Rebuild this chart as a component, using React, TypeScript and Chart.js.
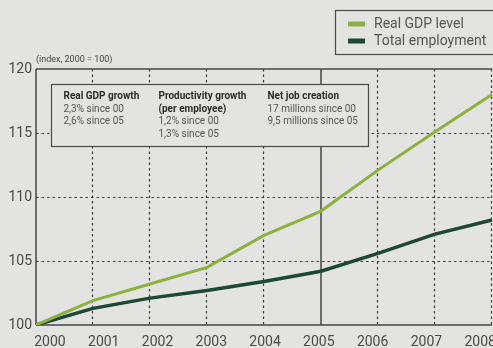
import React, { useEffect, useRef } from "react";
import { Chart, registerables } from "chart.js";

Chart.register(...registerables);

const years = ["2000", "2001", "2002", "2003", "2004", "2005", "2006", "2007", "2008"];
const gdpLevel = [100, 101.9, 103.2, 104.5, 107.0, 108.9, 112.1, 115.1, 118.0];
const totalEmployment = [100, 101.3, 102.1, 102.7, 103.4, 104.2, 105.6, 107.1, 108.2];
const yTicks = [100, 105, 110, 115, 120];
const seriesNames = ["Real GDP level", "Total employment"];
const seriesColors = ["#8db13f", "#1d4736"];
const highlightYear = "2005";
const unitLabel = "(index, 2000 = 100)";
const noteTitles = [["Real GDP growth"], ["Productivity growth", "(per employee)"], ["Net job creation"]];
const noteLines = [
  ["2,3% since 00", "2,6% since 05"],
  ["1,2% since 00", "1,3% since 05"],
  ["17 millions since 00", "9,5 millions since 05"],
];

const BG = "#e3e3e1";
const FONT = "Roboto, 'DejaVu Sans', sans-serif";

const gridPlugin = {
  id: "customGrid",
  beforeDatasetsDraw(chart: any) {
    const { ctx, chartArea: a, scales } = chart;
    const x = scales.x;
    const y = scales.y;
    const line = (x1: number, y1: number, x2: number, y2: number) => {
      ctx.beginPath();
      ctx.moveTo(x1, y1);
      ctx.lineTo(x2, y2);
      ctx.stroke();
    };
    ctx.save();
    ctx.strokeStyle = "#3c3c3c";
    ctx.lineWidth = 1.2;
    ctx.setLineDash([2.5, 3]);
    years.forEach((yr, i) => {
      if (i === 0 || yr === highlightYear) return;
      const px = Math.round(x.getPixelForValue(i)) - 0.5;
      line(px, a.top, px, a.bottom);
    });
    yTicks.forEach((v, i) => {
      if (i === 0 || i === yTicks.length - 1) return;
      const py = Math.round(y.getPixelForValue(v)) + 0.5;
      line(a.left, py, a.right, py);
    });
    ctx.setLineDash([]);
    ctx.strokeStyle = "#454545";
    ctx.lineWidth = 1.5;
    const hx = x.getPixelForValue(years.indexOf(highlightYear));
    line(hx, a.top, hx, a.bottom);
    const top = y.getPixelForValue(yTicks[yTicks.length - 1]);
    const bottom = y.getPixelForValue(yTicks[0]);
    line(a.left, top, a.right, top);
    line(a.left, bottom, a.right, bottom);
    line(a.left, top, a.left, bottom);
    ctx.restore();
  },
};

const boxesPlugin = {
  id: "boxes",
  afterDraw(chart: any) {
    const { ctx, chartArea: a } = chart;
    ctx.save();
    ctx.font = `9px ${FONT}`;
    ctx.fillStyle = "#444";
    ctx.textBaseline = "middle";
    ctx.textAlign = "left";
    ctx.fillText(unitLabel, a.left, a.top - 9);

    const bx = a.left + 15.5;
    const by = a.top + 15.5;
    const bw = 317;
    const bh = 62;
    ctx.fillStyle = BG;
    ctx.fillRect(bx, by, bw, bh);
    ctx.strokeStyle = "#4a4a4a";
    ctx.lineWidth = 1.2;
    ctx.strokeRect(bx, by, bw, bh);
    const colX = [bx + 12, bx + 107, bx + 216];
    const rowH = 12.7;
    noteTitles.forEach((titles, c) => {
      let ry = by + 12;
      ctx.font = `bold 10px ${FONT}`;
      ctx.fillStyle = "#2a2a2a";
      titles.forEach((t) => {
        ctx.fillText(t, colX[c], ry);
        ry += rowH;
      });
      ctx.font = `10px ${FONT}`;
      ctx.fillStyle = "#555";
      noteLines[c].forEach((t) => {
        ctx.fillText(t, colX[c], ry);
        ry += rowH;
      });
    });

    const lx = 335.5;
    const ly = 10.5;
    ctx.fillStyle = BG;
    ctx.fillRect(lx, ly, 170, 44);
    ctx.strokeStyle = "#4a4a4a";
    ctx.lineWidth = 1.2;
    ctx.strokeRect(lx, ly, 170, 44);
    ctx.font = `14px ${FONT}`;
    seriesNames.forEach((name, i) => {
      const cy = ly + 13.5 + i * 17;
      ctx.fillStyle = seriesColors[i];
      ctx.fillRect(lx + 12.5, cy - 2.5, 17, 5);
      ctx.fillStyle = "#555";
      ctx.fillText(name, lx + 38.5, cy);
    });
    ctx.restore();
  },
};

export default function App() {
  const ref = useRef<HTMLCanvasElement>(null);
  useEffect(() => {
    if (!ref.current) return;
    Chart.defaults.font.family = FONT;
    const chart = new Chart(ref.current, {
      type: "line",
      data: {
        labels: years,
        datasets: [
          {
            label: seriesNames[0],
            data: gdpLevel,
            borderColor: seriesColors[0],
            borderWidth: 3,
            pointRadius: 0,
            tension: 0,
            xAxisID: "x",
          },
          {
            label: seriesNames[1],
            data: totalEmployment,
            borderColor: seriesColors[1],
            borderWidth: 3.5,
            pointRadius: 0,
            tension: 0,
            xAxisID: "x",
          },
        ],
      },
      options: {
        responsive: false,
        animation: false,
        devicePixelRatio: 1,
        layout: { padding: { top: 69, right: 1, left: 0, bottom: 0 } },
        plugins: { legend: { display: false }, tooltip: { enabled: false } },
        scales: {
          x: {
            type: "category",
            position: "bottom",
            grid: { display: false },
            border: { display: false },
            ticks: { display: false },
            afterFit: (s: any) => {
              s.height = 0;
              s.paddingLeft = 0;
              s.paddingRight = 0;
            },
          },
          xl: {
            type: "linear",
            position: "bottom",
            min: 1999.74,
            max: 2008.22,
            grid: { display: false, drawTicks: false },
            border: { display: false },
            afterBuildTicks: (s: any) => {
              s.ticks = years.map((yr) => ({ value: Number(yr) }));
            },
            ticks: {
              autoSkip: false,
              maxRotation: 0,
              padding: 9,
              color: "#4a4a4a",
              font: { size: 14 },
              callback: (v: any) => String(v),
            },
            afterFit: (s: any) => {
              s.height = 23;
              s.paddingLeft = 0;
              s.paddingRight = 0;
            },
          },
          y: {
            type: "linear",
            min: yTicks[0],
            max: yTicks[yTicks.length - 1],
            grid: { display: false, drawTicks: false },
            border: { display: false },
            afterBuildTicks: (s: any) => {
              s.ticks = yTicks.map((v) => ({ value: v }));
            },
            ticks: {
              padding: 4,
              color: "#4a4a4a",
              font: { size: 14 },
              callback: (v: any) => String(v),
            },
            afterFit: (s: any) => {
              s.width = 36;
              s.paddingTop = 0;
              s.paddingBottom = 0;
            },
          },
        },
      },
      plugins: [gridPlugin, boxesPlugin],
    });
    return () => chart.destroy();
  }, []);
  return (
    <div style={{ position: "absolute", left: 0, top: 0, width: 493, height: 348, background: BG, overflow: "hidden" }}>
      <canvas ref={ref} width={493} height={348} style={{ display: "block" }} />
    </div>
  );
}
